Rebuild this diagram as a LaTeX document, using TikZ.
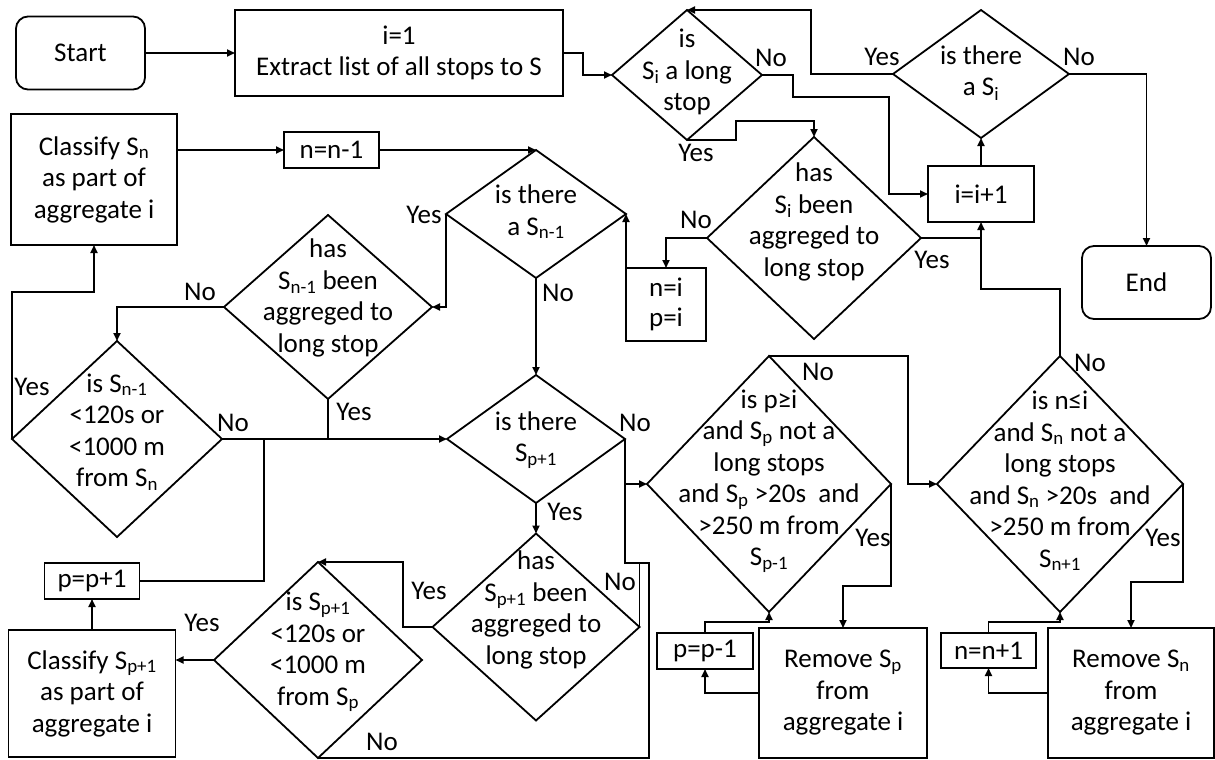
\documentclass[tikz,border=0pt]{standalone}
\usepackage{fontspec}
\setmainfont{Carlito}
\usetikzlibrary{shapes.geometric,arrows.meta}
\begin{document}
\begin{tikzpicture}[x=1pt,y=-1pt,
  every node/.style={font=\fontsize{27}{31.5}\selectfont, inner sep=0pt, outer sep=0pt},
  box/.style={draw, line width=1.8pt, align=center},
  rbox/.style={box, rounded corners=12pt},
  dia/.style={draw, diamond, line width=1.8pt},
  txt/.style={align=center},
  lbl/.style={},
  conn/.style={line width=1.8pt},
  arr/.style={conn, -{Triangle[length=8pt,width=7pt]}},
]
\useasboundingbox (0,0) rectangle (1215,760);
% nodes
\node[rbox, minimum width=129pt, minimum height=73pt] (start) at (80.5,53) {Start};
\node[box, minimum width=328pt, minimum height=86pt] (init) at (399,53) {i=1\\Extract list of all stops to S};
\node[dia, minimum width=150pt, minimum height=130pt] (dSi) at (687,75) {};
\node[txt] (dSiT) at (687,72) {is\\S\textsubscript{i} a long\\stop};
\node[dia, minimum width=176pt, minimum height=128pt] (dThere) at (981,74) {};
\node[txt] (dThereT) at (981,73) {is there\\a S\textsubscript{i}};
\node[box, minimum width=106pt, minimum height=56pt] (inc) at (981,194) {i=i+1};
\node[rbox, minimum width=129pt, minimum height=73pt] (endn) at (1146.5,282.5) {End};
\node[dia, minimum width=214pt, minimum height=202pt] (dHasSi) at (814,238) {};
\node[txt] (dHasSiT) at (814,222) {has\\S\textsubscript{i} been\\aggreged to\\long stop};
\node[box, minimum width=80pt, minimum height=73pt, font=\fontsize{27}{29.5}\selectfont] (nip) at (666,304.5) {n=i\\p=i};
\node[box, minimum width=166pt, minimum height=131pt] (classN) at (94,179.5) {Classify S\textsubscript{n}\\as part of\\aggregate i};
\node[box, minimum width=95pt, minimum height=36pt] (nm1) at (331.5,150) {n=n-1};
\node[dia, minimum width=180pt, minimum height=128pt] (dThereN) at (536,214) {};
\node[txt] (dThereNT) at (536,212) {is there\\a S\textsubscript{n-1}};
\node[dia, minimum width=208pt, minimum height=184pt] (dHasN) at (328,307) {};
\node[txt] (dHasNT) at (328,298) {has\\S\textsubscript{n-1} been\\aggreged to\\long stop};
\node[dia, minimum width=210pt, minimum height=196pt] (dIsN) at (117,439) {};
\node[txt] (dIsNT) at (117,432) {is S\textsubscript{n-1}\\<120s or\\<1000 m\\from S\textsubscript{n}};
\node[dia, minimum width=178pt, minimum height=128pt] (dThereP) at (536,439) {};
\node[txt] (dTherePT) at (536,440) {is there\\S\textsubscript{p+1}};
\node[dia, minimum width=207pt, minimum height=187pt] (dHasP) at (536,627) {};
\node[txt] (dHasPT) at (536,610) {has\\S\textsubscript{p+1} been\\aggreged to\\long stop};
\node[dia, minimum width=208pt, minimum height=196pt] (dIsP) at (318,660) {};
\node[txt] (dIsPT) at (318,652) {is S\textsubscript{p+1}\\<120s or\\<1000 m\\from S\textsubscript{p}};
\node[box, minimum width=95pt, minimum height=36pt] (pp1) at (92,581) {p=p+1};
\node[box, minimum width=167pt, minimum height=127pt] (classP) at (92,693.5) {Classify S\textsubscript{p+1}\\as part of\\aggregate i};
\node[dia, minimum width=244pt, minimum height=256pt] (dP) at (769,484) {};
\node[txt] (dPT) at (769,481) {is p≥i\\and S\textsubscript{p} not a\\long stops\\and S\textsubscript{p} >20s\ \ and\\>250 m from\\S\textsubscript{p-1}};
\node[box, minimum width=96pt, minimum height=36pt] (pm1) at (705,651) {p=p-1};
\node[box, minimum width=168pt, minimum height=130pt] (remP) at (843,693) {Remove S\textsubscript{p}\\from\\aggregate i};
\node[dia, minimum width=246pt, minimum height=256pt] (dN) at (1060,484) {};
\node[txt] (dNT) at (1060,481) {is n≤i\\and S\textsubscript{n} not a\\long stops\\and S\textsubscript{n} >20s\ \ and\\>250 m from\\S\textsubscript{n+1}};
\node[box, minimum width=95pt, minimum height=35pt] (np1) at (988.5,650.5) {n=n+1};
\node[box, minimum width=166pt, minimum height=130pt] (remN) at (1131,693) {Remove S\textsubscript{n}\\from\\aggregate i};
% connectors
\draw[arr] (start.east) -- (start.east -| init.west);
\draw[arr] (init.east) -- (583,53) |- (dSi.west);
\draw[arr] (dSi.east) -- (793,75) |- (889,97) |- (inc.west);
\draw[arr] (dSi.south) -- (736,140) |- (814,121) -- (dHasSi.north);
\draw[arr] (inc.north) -- (dThere.south);
\draw[arr] (dThere.east) -| (endn.north);
\draw[arr] (dThere.west) -- (811,74) |- (dSi.north);
\draw[arr] (dHasSi.west) -| (nip.north);
\draw[conn] (dHasSi.east) -- (dHasSi.east -| inc.south);
\draw[arr] (dN.north) -- (1060,289) -| (inc.south);
\draw[arr] (nip.north west) -- (dThereN.east);
\draw[arr] (classN.east |- nm1.west) -- (nm1.west);
\draw[arr] (nm1.east) -- (dThereN.north);
\draw[arr] (dThereN.west) |- (dHasN.east);
\draw[arr] (dThereN.south) -- (dThereP.north);
\draw[arr] (dHasN.west) -| (dIsN.north);
\draw[conn] (dHasN.south) -- (dHasN.south |- dIsN.east);
\draw[arr] (dIsN.east) -- (dThereP.west);
\draw[arr] (dIsN.west) -- (12,292) -| (classN.south);
\draw[conn] (pp1.east) -- (264,581) -- (264,439);
\draw[arr] (classP.north) -- (pp1.south);
\draw[arr] (dThereP.south) -- (dHasP.north);
\draw[arr] (dThereP.east) |- (dP.west);
\draw[conn] (dIsP.south) -- (649,758) -- (649,563) -- (625,563) -- (625,484);
\draw[conn] (dHasP.east) -- (dHasP.east |- 0,563);
\draw[arr] (dHasP.west) -- (403,627) |- (dIsP.north);
\draw[arr] (dIsP.west) -- (dIsP.west -| classP.east);
\draw[arr] (dP.north) -- (908,356) |- (dN.west);
\draw[arr] (dP.east) -- (891,586) -| (remP.north);
\draw[arr] (remP.west) -| (pm1.south);
\draw[arr] (pm1.north) |- (769,622) -- (dP.south);
\draw[arr] (dN.east) -- (1183,582) -| (remN.north);
\draw[arr] (remN.west) -| (np1.south);
\draw[arr] (np1.north) |- (1060,622) -- (dN.south);
% labels
\node[lbl] (l1) at (696,153) {Yes};
\node[lbl] (l2) at (771,58) {No};
\node[lbl] (l3) at (882,57) {Yes};
\node[lbl] (l4) at (1079,57) {No};
\node[lbl] (l5) at (696,220) {No};
\node[lbl] (l6) at (932,260) {Yes};
\node[lbl] (l7) at (424,215) {Yes};
\node[lbl] (l8) at (558,293) {No};
\node[lbl] (l9) at (200,292) {No};
\node[lbl] (l10) at (354,412) {Yes};
\node[lbl] (l11) at (233,423) {No};
\node[lbl] (l12) at (32,387) {Yes};
\node[lbl] (l13) at (635,423) {No};
\node[lbl] (l14) at (565,512) {Yes};
\node[lbl] (l15) at (429,591) {Yes};
\node[lbl] (l16) at (620,582) {No};
\node[lbl] (l17) at (202,623) {Yes};
\node[lbl] (l18) at (382,742) {No};
\node[lbl] (l19) at (818,372) {No};
\node[lbl] (l20) at (873,538) {Yes};
\node[lbl] (l21) at (1090,363) {No};
\node[lbl] (l22) at (1163,538) {Yes};
\end{tikzpicture}
\end{document}
